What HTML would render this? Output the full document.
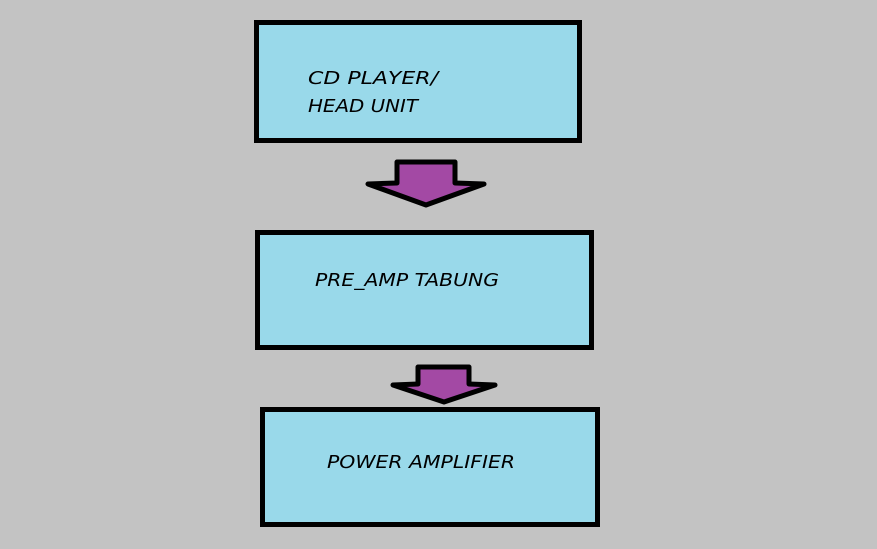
<!DOCTYPE html>
<html><head><meta charset="utf-8"><style>
html,body{margin:0;padding:0;background:#c3c3c3;}
svg{display:block}
text{font-family:"DejaVu Sans","Liberation Sans",sans-serif;font-style:italic;font-size:18px;fill:#000}
</style></head><body>
<svg width="877" height="549" viewBox="0 0 877 549" xmlns="http://www.w3.org/2000/svg">
<rect width="877" height="549" fill="#c3c3c3"/>
<rect x="256.5" y="22.5" width="323" height="118" fill="#99d9ea" stroke="#000" stroke-width="5"/>
<rect x="257.5" y="232.5" width="334" height="115" fill="#99d9ea" stroke="#000" stroke-width="5"/>
<rect x="262.5" y="409.5" width="335" height="115" fill="#99d9ea" stroke="#000" stroke-width="5"/>
<polygon points="397,162 455,162 455,183 484,184 426,205 368,184 397,183" fill="#a349a4" stroke="#000" stroke-width="5" stroke-linejoin="round"/>
<polygon points="418,367 469,367 469,384 495,385 444,402 393,385 418,384" fill="#a349a4" stroke="#000" stroke-width="5" stroke-linejoin="round"/>
<text x="308" y="84" textLength="130" lengthAdjust="spacingAndGlyphs">CD PLAYER/</text>
<text x="308" y="112" textLength="110" lengthAdjust="spacingAndGlyphs">HEAD UNIT</text>
<text x="315" y="286" textLength="184" lengthAdjust="spacingAndGlyphs">PRE_AMP TABUNG</text>
<text x="327" y="468" textLength="188" lengthAdjust="spacingAndGlyphs">POWER  AMPLIFIER</text>
</svg>
</body></html>
